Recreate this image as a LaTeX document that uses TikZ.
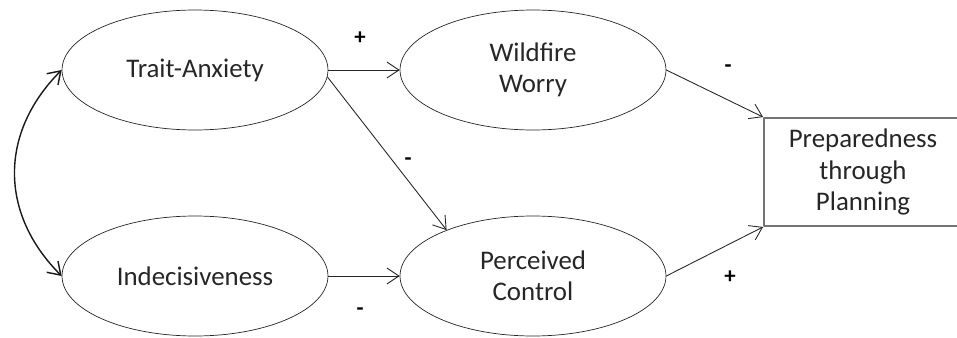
\documentclass[tikz,border=0pt]{standalone}
\usepackage{fontspec}
\setmainfont{Carlito}
\usetikzlibrary{shapes.geometric,arrows.meta}
\begin{document}
\begin{tikzpicture}[x=0.02cm, y=-0.02cm, line cap=round, line join=round,
    latent/.style={draw=black!85, ellipse, minimum width=5.32cm, minimum height=2.4cm,
      inner sep=0pt, align=center, text=black!85, font=\fontsize{15.3}{17.5}\selectfont},
    outcome/.style={draw=black!55, line width=1.1pt, rectangle, minimum width=3.96cm,
      minimum height=2.16cm, inner sep=0pt, align=center, text=black!85,
      font=\fontsize{15.3}{18}\selectfont},
    path/.style={draw=black!85, line width=0.5pt, -{Straight Barb[length=2.4mm, width=3.2mm]}},
    sign/.style={font=\fontsize{13}{13}\selectfont\bfseries, text=black}]
  \useasboundingbox (0,0) rectangle (957,338);
  \node[latent] (anx) at (195,70) {Trait-Anxiety};
  \node[latent] (worry) at (533,70) {Wildfire\\Worry};
  \node[latent] (indec) at (195,276) {Indecisiveness};
  \node[latent] (control) at (533,276) {Perceived\\Control};
  \node[outcome] (prep) at (863,172) {Preparedness\\through\\Planning};
  % paths
  \draw[path] (anx.east) -- (worry.west);
  \draw[path] (anx.-3) -- (control.152);
  \draw[path] (indec.east) -- (control.west);
  \draw[path] (worry.east) -- (prep.north west);
  \draw[path] (control.east) -- (prep.south west);
  \draw[draw=black!90, line width=0.8pt, {Straight Barb[length=2.4mm, width=3.2mm]}-{Straight Barb[length=2.4mm, width=3.2mm]}]
    (anx.west) to[out=225, in=135, looseness=1.1] (indec.west);
  % signs
  \node[sign] (s1) at (360,38) {+};
  \node[sign] (s2) at (408,162) {-};
  \node[sign] (s3) at (360,312) {-};
  \node[sign] (s4) at (728,69) {-};
  \node[sign] (s5) at (730,277) {+};
\end{tikzpicture}
\end{document}
